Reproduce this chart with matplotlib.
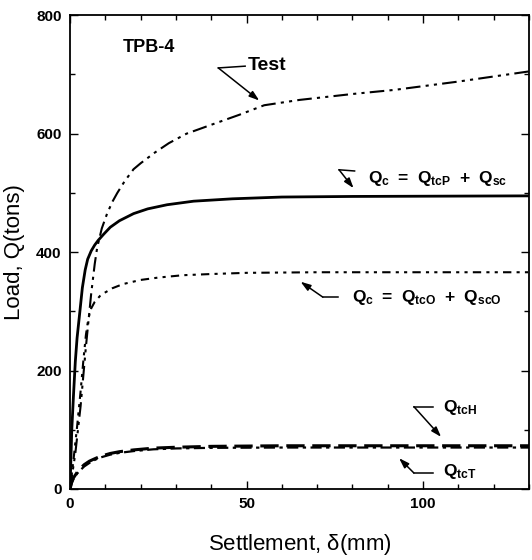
import matplotlib
matplotlib.use('Agg')
import matplotlib.pyplot as plt
from matplotlib.ticker import MultipleLocator

plt.rcParams['font.family'] = ['Liberation Sans', 'DejaVu Sans']
plt.rcParams['mathtext.fontset'] = 'custom'
plt.rcParams['mathtext.rm'] = 'Liberation Sans'

# Test curve (settlement mm, load tons)
test_x = [0, 1.5, 3, 4.5, 6, 7, 7.7, 9, 10.5, 12, 13.4, 15.5, 18, 20, 24, 28, 33,
          40, 48, 55, 65, 80, 92, 110, 131]
test_q = [0, 60, 140, 240, 330, 380, 408, 440, 465, 485, 500, 520, 540, 550, 568, 584, 600,
          615, 632, 648, 657, 667, 674, 688, 706]

# Qc = QtcP + Qsc
qcp_x = [0, 0.5, 1, 1.5, 2, 2.8, 3.5, 4.3, 5, 6, 7, 8, 9.5, 11.4, 14, 18, 22, 27.5,
         35, 46, 60, 80, 131]
qcp_q = [0, 100, 160, 215, 255, 300, 340, 370, 388, 402, 412, 420, 430, 442, 453, 465, 473, 480,
         486, 490, 493, 494, 495]

# Qc = QtcO + QscO
qco_x = [0, 1, 2, 3, 3.8, 4.5, 5.2, 6, 7, 8.5, 10, 12, 15, 20, 25, 32, 40, 50, 70, 131]
qco_q = [0, 50, 105, 165, 218, 260, 288, 305, 316, 326, 332, 339, 346, 353, 357, 361, 363, 365, 366, 366]

# QtcH
qth_x = [0, 0.5, 1, 2, 2.8, 4, 5.5, 6.6, 8.5, 11.4, 14, 18, 23.6, 30, 40, 60, 131]
qth_q = [0, 12, 19, 28, 34, 41, 47, 50, 55, 60, 63, 66, 69, 70.5, 72, 73, 73]

# QtcT
qtt_x = [0, 0.5, 1, 2, 2.8, 4, 5.5, 6.6, 8.5, 11.4, 14, 18, 23.6, 30, 40, 60, 131]
qtt_q = [0, 10, 17, 26, 31, 38, 44, 48, 53, 58, 61, 64, 67, 68.5, 69.5, 70, 70]

x_ticks = [0, 50, 100]
y_ticks = [0, 200, 400, 600, 800]

fig = plt.figure(figsize=(5.32, 5.6), dpi=100)
ax = fig.add_axes([0.1316, 0.1268, 0.8628, 0.846])

ax.plot(test_x, test_q, color='black', lw=1.5, linestyle=(0, (7, 2.5, 1.5, 2.5, 1.5, 2.5)))
ax.plot(qcp_x, qcp_q, color='black', lw=2.0, linestyle='-')
ax.plot(qco_x, qco_q, color='black', lw=1.5, linestyle=(0, (4, 2.5, 1.5, 2.5, 1.5, 2.5)))
ax.plot(qth_x, qth_q, color='black', lw=2.2, linestyle=(0, (6, 2.5)))
ax.plot(qtt_x, qtt_q, color='black', lw=1.6, linestyle=(0, (5, 2, 1.5, 2)))

ax.set_xlim(0, 130)
ax.set_ylim(0, 800)
ax.set_xticks(x_ticks)
ax.set_yticks(y_ticks)
ax.xaxis.set_minor_locator(MultipleLocator(10))
ax.yaxis.set_minor_locator(MultipleLocator(100))
ax.tick_params(which='both', direction='in', top=True, right=True, width=1.0)
ax.tick_params(which='major', length=6, labelsize=11, pad=6)
ax.tick_params(which='minor', length=3.5)
for lab in ax.get_xticklabels() + ax.get_yticklabels():
    lab.set_fontweight('bold')
for sp in ax.spines.values():
    sp.set_linewidth(1.3)

ax.set_xlabel(r'Settlement, $\mathregular{\delta}$(mm)', fontsize=16, labelpad=15)
ax.set_ylabel('Load, Q(tons)', fontsize=16, labelpad=8)

ax.text(15, 746, 'TPB-4', fontsize=13, fontweight='bold', va='center')


def leader(text_xy, elbow, tip, label, size=12.5):
    ax.text(text_xy[0], text_xy[1], label, fontsize=size, fontweight='bold', va='center', ha='left')
    ax.plot([elbow[0][0], elbow[1][0]], [elbow[0][1], elbow[1][1]], color='black', lw=1.1)
    ax.annotate('', xy=tip, xytext=elbow[1],
                arrowprops=dict(arrowstyle='-|>,head_length=0.6,head_width=0.2',
                                color='black', lw=1.1, shrinkA=0, shrinkB=0))


leader((50.3, 715), ((49.6, 714), (42, 711)), (53.6, 656), 'Test', size=14)
leader((84.4, 525), ((80.6, 537), (76.2, 539)), (80.3, 508),
       r'$\mathregular{Q_c\ =\ Q_{tcP}\ +\ Q_{sc}}$')
leader((80.0, 323), ((75.9, 324), (71.6, 324)), (65.3, 350),
       r'$\mathregular{Q_c\ =\ Q_{tcO}\ +\ Q_{scO}}$')
leader((105.7, 137), ((102.8, 139), (97.4, 139)), (105.1, 88),
       r'$\mathregular{Q_{tcH}}$')
leader((105.7, 29), ((102.8, 27), (97.4, 27)), (93.2, 52),
       r'$\mathregular{Q_{tcT}}$')

fig.savefig('out.png', dpi=100)
